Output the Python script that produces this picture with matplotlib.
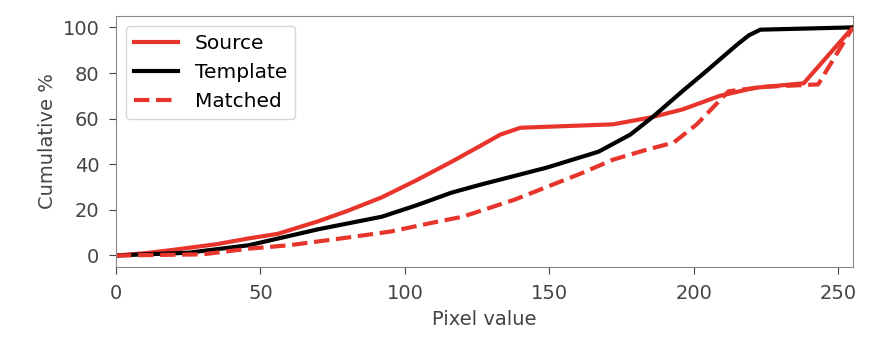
import matplotlib
matplotlib.use("Agg")
import matplotlib.pyplot as plt

src_x = [0, 10, 20, 35, 46, 56, 70, 80, 92, 104, 116, 126, 133, 140, 172, 185, 196, 209, 221, 238, 255]
src_y = [0, 1, 2.5, 5, 7.5, 9.5, 15, 19.5, 25.5, 33, 41, 48, 53, 56, 57.5, 60.5, 64, 70, 73.5, 75.5, 100]

tpl_x = [0, 10, 25, 46, 58, 70, 92, 104, 116, 126, 149, 167, 178, 186, 196, 204, 215, 219, 223, 255]
tpl_y = [0, 0.5, 1.2, 4.5, 8, 11.5, 17, 22, 27.5, 31, 38.5, 45.5, 53, 61, 72, 80.5, 92.5, 96.5, 99, 100]

mat_x = [0, 30, 46, 60, 81, 95, 110, 120, 138, 149, 161, 172, 184, 193, 201, 212, 225, 243, 255]
mat_y = [0, 0.5, 3, 4.5, 8, 10.5, 14.5, 17, 24.5, 30, 36, 42, 46.5, 49.5, 57.5, 72, 74, 75, 100]

xticks = [0, 50, 100, 150, 200, 250]
yticks = [0, 20, 40, 60, 80, 100]

plt.rcParams['font.family'] = ['DejaVu Sans']
plt.rcParams['font.size'] = 14

fig = plt.figure(figsize=(8.72, 3.4), dpi=100)
ax = fig.add_axes([0.133, 0.215, 0.845, 0.738])
red = '#e8352c'
ax.plot(src_x, src_y, color=red, lw=3, label='Source')
ax.plot(tpl_x, tpl_y, color='black', lw=3, label='Template')
ax.plot(mat_x, mat_y, color=red, lw=3, ls='--', label='Matched')
ax.set_xlim(0, 255)
ax.set_ylim(-5, 105)
ax.set_xticks(xticks)
ax.set_yticks(yticks)
ax.set_xlabel('Pixel value', color='#444444', labelpad=5)
ax.set_ylabel('Cumulative %', color='#444444', labelpad=4)
ax.tick_params(colors='#444444', length=5, pad=7)
for s in ax.spines.values():
    s.set_color('#888888')
ax.legend(loc='upper left', fontsize=14.5, handlelength=2.2)
fig.savefig('out.png', dpi=100)
